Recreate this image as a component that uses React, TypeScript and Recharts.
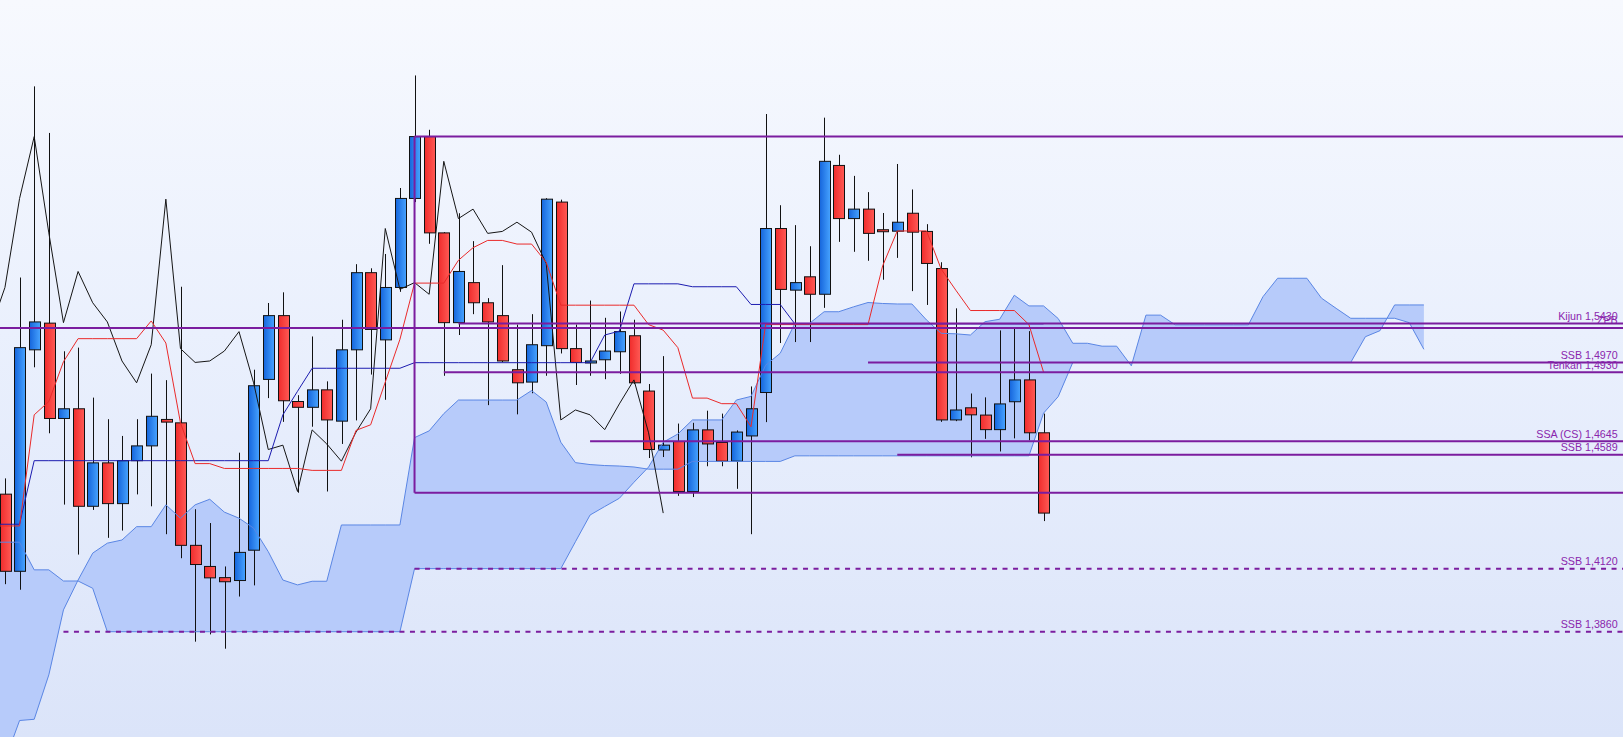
import React from 'react';
import { ComposedChart, Bar, Line, Area, XAxis, YAxis, ReferenceLine } from 'recharts';

// candles, index 0..71
const opens = [
  1.4427, 1.4109, 1.5022, 1.5132, 1.4739, 1.4779, 1.4377, 1.4556, 1.4388, 1.4565,
  1.4626, 1.4735, 1.4721, 1.4216, 1.4129, 1.4083, 1.4071, 1.4196, 1.4900, 1.5163,
  1.4809, 1.4785, 1.4857, 1.4728, 1.5022, 1.5340, 1.5063, 1.5279, 1.5646, 1.5901,
  1.5504, 1.5134, 1.5299, 1.5216, 1.5163, 1.4940, 1.4889, 1.5039, 1.5631, 1.5027,
  1.4969, 1.4981, 1.5014, 1.5080, 1.4852, 1.4609, 1.4644, 1.4438, 1.4692, 1.4640,
  1.4563, 1.4667, 1.4846, 1.5522, 1.5268, 1.5323, 1.5251, 1.5782, 1.5563, 1.5602,
  1.5517, 1.5511, 1.5585, 1.5510, 1.5357, 1.4733, 1.4783, 1.4753, 1.4693, 1.4808,
  1.4898, 1.4680,
];
const highs = [
  1.4492, 1.5320, 1.6108, 1.5916, 1.5016, 1.5031, 1.4825, 1.4736, 1.4667, 1.4736,
  1.4924, 1.4897, 1.5282, 1.4365, 1.4308, 1.4129, 1.4598, 1.4940, 1.5215, 1.5259,
  1.4835, 1.5077, 1.4892, 1.5146, 1.5375, 1.5358, 1.5417, 1.5689, 1.6153, 1.5929,
  1.5507, 1.5585, 1.5470, 1.5235, 1.5371, 1.5126, 1.5169, 1.5647, 1.5641, 1.5126,
  1.5225, 1.5154, 1.5180, 1.5146, 1.4881, 1.4996, 1.4718, 1.4721, 1.4771, 1.4759,
  1.4690, 1.4871, 1.5994, 1.5618, 1.5536, 1.5449, 1.5979, 1.5826, 1.5739, 1.5672,
  1.5586, 1.5788, 1.5683, 1.5540, 1.5383, 1.5193, 1.4842, 1.4826, 1.5102, 1.5108,
  1.5099, 1.4759,
];
const lows = [
  1.4056, 1.4033, 1.4950, 1.4678, 1.4384, 1.4178, 1.4362, 1.4247, 1.4277, 1.4426,
  1.4377, 1.4262, 1.4163, 1.3819, 1.3849, 1.3790, 1.4005, 1.4051, 1.4823, 1.4725,
  1.4433, 1.4705, 1.4438, 1.4634, 1.4731, 1.4920, 1.4816, 1.5261, 1.5631, 1.5459,
  1.4915, 1.5083, 1.5169, 1.4794, 1.4970, 1.4756, 1.4843, 1.4915, 1.5007, 1.4877,
  1.4915, 1.4901, 1.4923, 1.4881, 1.4576, 1.4580, 1.4420, 1.4415, 1.4542, 1.4542,
  1.4449, 1.4262, 1.4724, 1.5050, 1.5054, 1.5054, 1.5195, 1.5467, 1.5426, 1.5389,
  1.5311, 1.5401, 1.5264, 1.5207, 1.4725, 1.4728, 1.4579, 1.4655, 1.4603, 1.4657,
  1.4649, 1.4316,
];
const closes = [
  1.4109, 1.5031, 1.5137, 1.4739, 1.4779, 1.4377, 1.4556, 1.4388, 1.4565, 1.4626,
  1.4748, 1.4724, 1.4216, 1.4137, 1.4082, 1.4066, 1.4187, 1.4874, 1.5163, 1.4812,
  1.4785, 1.4857, 1.4733, 1.5022, 1.5340, 1.5106, 1.5279, 1.5646, 1.5901, 1.5504,
  1.5134, 1.5345, 1.5216, 1.5137, 1.4976, 1.4886, 1.5043, 1.5643, 1.5027, 1.4970,
  1.4976, 1.5017, 1.5097, 1.4886, 1.4611, 1.4629, 1.4438, 1.4692, 1.4634, 1.4563,
  1.4683, 1.4779, 1.5522, 1.5271, 1.5299, 1.5251, 1.5799, 1.5563, 1.5602, 1.5502,
  1.5510, 1.5548, 1.5507, 1.5378, 1.4733, 1.4774, 1.4754, 1.4693, 1.4799, 1.4898,
  1.4680, 1.4349,
];

const tenkan = [
  1.4296, 1.4296, 1.4754, 1.4809, 1.4973, 1.5068, 1.5068, 1.5068, 1.5068, 1.5068,
  1.5141, 1.5050, 1.4721, 1.4553, 1.4553, 1.4533, 1.4533, 1.4533, 1.4533, 1.4533,
  1.4533, 1.4525, 1.4525, 1.4525, 1.4690, 1.4713, 1.4889, 1.5065, 1.5297, 1.5297,
  1.5297, 1.5391, 1.5443, 1.5473, 1.5473, 1.5458, 1.5458, 1.5383, 1.5206, 1.5206,
  1.5206, 1.5206, 1.5206, 1.5206, 1.5126, 1.5103, 1.5031, 1.4823, 1.4823, 1.4800,
  1.4800, 1.4705, 1.5126, 1.5126, 1.5126, 1.5126, 1.5126, 1.5126, 1.5126, 1.5126,
  1.5368, 1.5512, 1.5512, 1.5512, 1.5355, 1.5268, 1.5184, 1.5184, 1.5184, 1.5184,
  1.5126, 1.4930,
];
const kijun = [
  1.4303, 1.4303, 1.4565, 1.4565, 1.4565, 1.4565, 1.4565, 1.4565, 1.4565, 1.4565,
  1.4565, 1.4565, 1.4565, 1.4565, 1.4565, 1.4565, 1.4565, 1.4565, 1.4565, 1.4754,
  1.4851, 1.4946, 1.4946, 1.4946, 1.4946, 1.4946, 1.4946, 1.4946, 1.4969, 1.4969,
  1.4969, 1.4969, 1.4969, 1.4969, 1.4969, 1.4969, 1.4969, 1.4969, 1.4969, 1.4969,
  1.4969, 1.5083, 1.5099, 1.5294, 1.5294, 1.5294, 1.5294, 1.5282, 1.5282, 1.5282,
  1.5282, 1.5209, 1.5209, 1.5209, 1.5129, 1.5129, 1.5129, 1.5129, 1.5129, 1.5129,
  1.5129, 1.5129, 1.5129, 1.5129, 1.5129, 1.5129, 1.5129, 1.5129, 1.5129, 1.5129,
  1.5129, 1.5129,
];

// cloud edges, index 0..97 (26 periods ahead of the last candle)
const spanA = [
  1.4229, 1.4229, 1.4115, 1.4115, 1.4069, 1.4069, 1.4039, 1.3860, 1.3860, 1.3860,
  1.3860, 1.3860, 1.3860, 1.3860, 1.3860, 1.3860, 1.3860, 1.3860, 1.3860, 1.3860,
  1.3860, 1.3860, 1.3860, 1.3860, 1.3860, 1.3860, 1.3860, 1.3860, 1.4120, 1.4120,
  1.4120, 1.4120, 1.4120, 1.4120, 1.4120, 1.4120, 1.4120, 1.4120, 1.4120, 1.4231,
  1.4341, 1.4376, 1.4410, 1.4476, 1.4539, 1.4641, 1.4675, 1.4733, 1.4733, 1.4733,
  1.4815, 1.4830, 1.4958, 1.5008, 1.5131, 1.5131, 1.5179, 1.5179, 1.5199, 1.5217,
  1.5213, 1.5211, 1.5211, 1.5145, 1.5090, 1.5088, 1.5083, 1.5138, 1.5148, 1.5247,
  1.5203, 1.5203, 1.5151, 1.5049, 1.5049, 1.5037, 1.5037, 1.4956, 1.5165, 1.5165,
  1.5125, 1.5125, 1.5125, 1.5125, 1.5125, 1.5125, 1.5241, 1.5317, 1.5317, 1.5317,
  1.5235, 1.5193, 1.5152, 1.5152, 1.5152, 1.5152, 1.5134, 1.5024,
];
const spanB = [
  1.3329, 1.3494, 1.3499, 1.3682, 1.3950, 1.4073, 1.4184, 1.4225, 1.4238, 1.4293,
  1.4293, 1.4383, 1.4328, 1.4383, 1.4406, 1.4353, 1.4328, 1.4287, 1.4190, 1.4073,
  1.4053, 1.4068, 1.4068, 1.4300, 1.4300, 1.4300, 1.4300, 1.4300, 1.4660, 1.4688,
  1.4759, 1.4815, 1.4815, 1.4815, 1.4815, 1.4815, 1.4854, 1.4807, 1.4641, 1.4557,
  1.4549, 1.4545, 1.4543, 1.4539, 1.4530, 1.4530, 1.4530, 1.4562, 1.4562, 1.4562,
  1.4562, 1.4562, 1.4562, 1.4562, 1.4585, 1.4585, 1.4585, 1.4585, 1.4585, 1.4585,
  1.4585, 1.4585, 1.4585, 1.4585, 1.4585, 1.4585, 1.4585, 1.4585, 1.4585, 1.4585,
  1.4585, 1.4761, 1.4829, 1.4970, 1.4970, 1.4970, 1.4970, 1.4970, 1.4970, 1.4970,
  1.4970, 1.4970, 1.4970, 1.4970, 1.4970, 1.4970, 1.4970, 1.4970, 1.4970, 1.4970,
  1.4970, 1.4970, 1.4970, 1.5076, 1.5101, 1.5207, 1.5207, 1.5207,
];

// values one period left of the first candle (mostly off screen)
const before = { tenkan: 1.4296, kijun: 1.4303, spanA: 1.4229, spanB: 1.32 };

const SHIFT = 26;
const FIRST = -1;
const LAST = 111;

// drawn levels: price, first candle index, label, dashed
const levels = [
  { y: 1.5901, from: 28, text: '', dash: false },
  { y: 1.5112, from: -1, text: 'ZPB', dash: false },
  { y: 1.5131, from: 31, text: 'Kijun 1,5430', dash: false },
  { y: 1.4970, from: 59, text: 'SSB 1,4970', dash: false },
  { y: 1.4930, from: 30, text: 'Tenkan 1,4930', dash: false },
  { y: 1.4645, from: 40, text: 'SSA (CS) 1,4645', dash: false },
  { y: 1.4589, from: 61, text: 'SSB 1,4589', dash: false },
  { y: 1.4433, from: 28, text: '', dash: false },
  { y: 1.4120, from: 28, text: 'SSB 1,4120', dash: true },
  { y: 1.3860, from: 4, text: 'SSB 1,3860', dash: true },
];
const boxLeft = { x: 28, top: 1.5901, bottom: 1.4433 };

const rows: any[] = [];
for (let k = FIRST; k <= LAST; k++) {
  const r: any = { i: k };
  if (k >= 0 && k < closes.length) {
    r.o = opens[k];
    r.h = highs[k];
    r.l = lows[k];
    r.c = closes[k];
    r.range = [lows[k], highs[k]];
    r.tenkan = tenkan[k];
    r.kijun = kijun[k];
  }
  if (k + SHIFT >= 0 && k + SHIFT < closes.length) r.chikou = closes[k + SHIFT];
  if (k >= 0 && k < spanA.length) {
    r.spanA = spanA[k];
    r.spanB = spanB[k];
    r.cloud = [spanB[k], spanA[k]];
  }
  if (k === FIRST) {
    Object.assign(r, before);
    r.cloud = [before.spanB, before.spanA];
  }
  rows.push(r);
}

const PURPLE = '#7b1d9f';

function Candle(props: any) {
  const { x, y, width, height, payload } = props;
  if (!payload || payload.o == null) return null;
  const top = Math.min(y, y + height);
  const bottom = Math.max(y, y + height);
  const k = (bottom - top) / (payload.h - payload.l);
  const py = (p: number) => top + (payload.h - p) * k;
  const up = payload.c > payload.o;
  const b1 = py(Math.max(payload.o, payload.c));
  const b2 = py(Math.min(payload.o, payload.c));
  const cx = Math.round(x + width / 2) + 0.5;
  return (
    <g>
      <line x1={cx} x2={cx} y1={top} y2={bottom} stroke="#111" strokeWidth={1} />
      <rect
        x={Math.round(x) + 0.5}
        y={b1}
        width={Math.round(width)}
        height={Math.max(b2 - b1, 2)}
        fill={up ? 'url(#bull)' : 'url(#bear)'}
        stroke="#111"
        strokeWidth={1}
      />
    </g>
  );
}

const levelLabel = (text: string) => (p: any) => {
  const vb = p.viewBox;
  if (!vb || !text) return null;
  return (
    <text
      x={vb.x + vb.width - 11}
      y={vb.y - 3.5}
      textAnchor="end"
      fontFamily="'Liberation Sans', Arial, sans-serif"
      fontSize={10.7}
      fill="#8a26ad"
    >
      {text}
    </text>
  );
};

export default function App() {
  return (
    <div
      style={{
        position: 'absolute',
        left: 0,
        top: 0,
        width: 1623,
        height: 737,
        overflow: 'hidden',
        background: 'linear-gradient(180deg, #f7f9fe 0%, #eaf0fd 45%, #dbe4f9 100%)',
      }}
    >
      <div style={{ position: 'absolute', left: -17.2, top: 0 }}>
        <ComposedChart width={1653} height={737} data={rows} margin={{ top: 0, right: 0, bottom: 0, left: 0 }}>
          <defs>
            <linearGradient id="bull" x1="0" y1="0" x2="1" y2="0">
              <stop offset="0%" stopColor="#1565dc" />
              <stop offset="100%" stopColor="#47a3ff" />
            </linearGradient>
            <linearGradient id="bear" x1="0" y1="0" x2="1" y2="0">
              <stop offset="0%" stopColor="#f02c2c" />
              <stop offset="100%" stopColor="#ff5a55" />
            </linearGradient>
          </defs>
          <XAxis dataKey="i" type="category" hide />
          <YAxis type="number" domain={[1.3426, 1.6464]} allowDataOverflow hide />
          <Area dataKey="cloud" fill="#b7cbfa" fillOpacity={1} stroke="none" dot={false} activeDot={false} isAnimationActive={false} />
          <Line dataKey="spanA" stroke="#5a86e4" strokeWidth={1} dot={false} activeDot={false} isAnimationActive={false} />
          <Line dataKey="spanB" stroke="#5a86e4" strokeWidth={1} dot={false} activeDot={false} isAnimationActive={false} />
          <Bar dataKey="range" barSize={11} shape={<Candle />} activeBar={false} isAnimationActive={false} />
          <Line dataKey="chikou" stroke="#151515" strokeWidth={1} dot={false} activeDot={false} isAnimationActive={false} />
          <Line dataKey="kijun" stroke="#1c1cb0" strokeWidth={1} dot={false} activeDot={false} isAnimationActive={false} />
          <Line dataKey="tenkan" stroke="#ea2a2a" strokeWidth={1} dot={false} activeDot={false} isAnimationActive={false} />
          {levels.map((lv) => (
            <ReferenceLine
              key={lv.y}
              segment={[{ x: lv.from, y: lv.y }, { x: LAST, y: lv.y }]}
              stroke={PURPLE}
              strokeWidth={2}
              strokeDasharray={lv.dash ? '5 5.5' : undefined}
              label={levelLabel(lv.text)}
            />
          ))}
          <ReferenceLine
            segment={[{ x: boxLeft.x, y: boxLeft.bottom }, { x: boxLeft.x, y: boxLeft.top }]}
            stroke={PURPLE}
            strokeWidth={2}
          />
        </ComposedChart>
      </div>
    </div>
  );
}
